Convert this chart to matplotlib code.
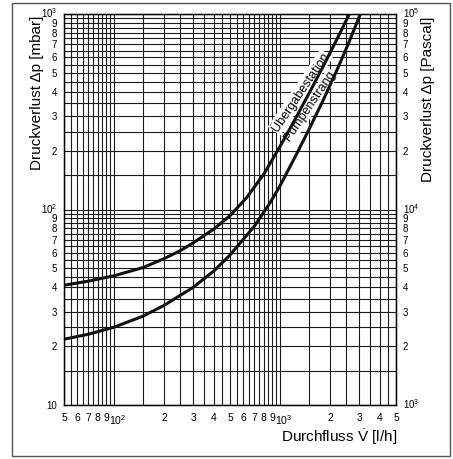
import numpy as np
import matplotlib
matplotlib.use("Agg")
import matplotlib.pyplot as plt
from matplotlib.patches import Rectangle
from matplotlib.transforms import ScaledTranslation
from matplotlib.ticker import FixedLocator, FixedFormatter, NullFormatter

plt.rcParams['font.family'] = ['Liberation Sans', 'DejaVu Sans']
plt.rcParams['mathtext.fontset'] = 'custom'
plt.rcParams['mathtext.rm'] = 'Liberation Sans'
plt.rcParams['mathtext.it'] = 'Liberation Sans:italic'
plt.rcParams['mathtext.default'] = 'regular'

# curve data: flow [l/h] -> pressure loss [mbar]
q_uebergabe = [50, 70, 100, 150, 200, 250, 300, 400, 500, 630, 800, 1000,
               1200, 1500, 1800, 2200, 2620]
dp_uebergabe = [41, 43, 45.8, 50.5, 56, 61.5, 67.5, 79.5, 93, 115, 152, 210,
                277, 394, 530, 741, 1000]

q_pumpe = [50, 70, 100, 150, 200, 300, 400, 500, 700, 870, 1000, 1250,
           1500, 1800, 2200, 2600, 3050]
dp_pumpe = [21.7, 23.0, 25.0, 28.5, 32.3, 40.0, 48.5, 58.5, 82, 108, 132, 190,
            258, 355, 515, 715, 1000]

# tick labels
x_ticks = [50, 60, 70, 80, 90, 100, 200, 300, 400, 500, 600, 700, 800, 900,
           1000, 2000, 3000, 4000, 5000]
x_labels = ['5', '6', '7', '8', '9', '$10^2$', '2', '3', '4', '5', '6', '7',
            '8', '9', '$10^3$', '2', '3', '4', '5']
y_ticks = [10, 20, 30, 40, 50, 60, 70, 80, 90, 100, 200, 300, 400, 500, 600,
           700, 800, 900, 1000]
y_labels = ['10', '2', '3', '4', '5', '6', '7', '8', '9', '$10^2$', '2', '3',
            '4', '5', '6', '7', '8', '9', '$10^3$']
y2_ticks = [1000, 2000, 3000, 4000, 5000, 6000, 7000, 8000, 9000, 10000,
            20000, 30000, 40000, 50000, 60000, 70000, 80000, 90000, 100000]
y2_labels = ['$10^3$', '2', '3', '4', '5', '6', '7', '8', '9', '$10^4$', '2',
             '3', '4', '5', '6', '7', '8', '9', '$10^5$']

fig = plt.figure(figsize=(4.53, 4.59), dpi=100)
ax = fig.add_axes([64 / 453, 1 - 405 / 459, 332 / 453, 391 / 459])

# grid every half step inside each decade
steps = np.arange(1, 10, 0.5)
grid_x = [s * d for d in (10, 100, 1000) for s in steps]
grid_y = [s * d for d in (10, 100) for s in steps]

ax.set_xscale('log')
ax.set_yscale('log')
ax.set_xlim(50, 5000)
ax.set_ylim(10, 1000)

ax.xaxis.set_major_locator(FixedLocator(x_ticks))
ax.xaxis.set_major_formatter(FixedFormatter(x_labels))
ax.xaxis.set_minor_locator(FixedLocator(grid_x))
ax.xaxis.set_minor_formatter(NullFormatter())
ax.yaxis.set_major_locator(FixedLocator(y_ticks))
ax.yaxis.set_major_formatter(FixedFormatter(y_labels))
ax.yaxis.set_minor_locator(FixedLocator(grid_y))
ax.yaxis.set_minor_formatter(NullFormatter())

ax.grid(True, which='both', color='#1a1a1a', lw=0.8)
ax.tick_params(which='both', length=0)
ax.tick_params(axis='x', pad=6, labelsize=7.5)
ax.tick_params(axis='y', pad=5, labelsize=7)
for sp in ax.spines.values():
    sp.set_linewidth(1.0)

ax2 = ax.twinx()
ax2.set_yscale('log')
ax2.set_ylim(1000, 100000)
ax2.yaxis.set_major_locator(FixedLocator(y2_ticks))
ax2.yaxis.set_major_formatter(FixedFormatter(y2_labels))
ax2.yaxis.set_minor_formatter(NullFormatter())
ax2.tick_params(which='both', length=0, labelsize=7, pad=5)

# decade labels sit a bit off-centre, like in the original
right = ScaledTranslation(2.5 / 72, 0, fig.dpi_scale_trans)
up = ScaledTranslation(0, 1.2 / 72, fig.dpi_scale_trans)
for lbl, txt in zip(ax.get_xticklabels(), x_labels):
    if txt.startswith('$'):
        lbl.set_transform(lbl.get_transform() + right)
for lbl, txt in zip(ax.get_yticklabels(), y_labels):
    if txt.startswith('$'):
        lbl.set_transform(lbl.get_transform() + up)
for lbl, txt in zip(ax2.get_yticklabels(), y2_labels):
    if txt.startswith('$'):
        lbl.set_transform(lbl.get_transform() + up)

ax.plot(q_uebergabe, dp_uebergabe, color='#111111', lw=2.2, zorder=5)
ax.plot(q_pumpe, dp_pumpe, color='#111111', lw=2.2, zorder=5)

bbox = dict(facecolor='white', edgecolor='none', pad=0.5)
ax.text(0.712, 0.80, 'Übergabestation', transform=ax.transAxes, fontsize=9,
        rotation=56, rotation_mode='anchor', ha='center', va='center',
        bbox=bbox, zorder=4)
ax.text(0.742, 0.765, 'Pumpenstrang', transform=ax.transAxes, fontsize=9,
        rotation=56, rotation_mode='anchor', ha='center', va='center',
        bbox=bbox, zorder=4)

fig.text(37 / 453, 1 - 93 / 459, 'Druckverlust Δp [mbar]', rotation=90,
         ha='center', va='center', fontsize=11)
fig.text(428 / 453, 1 - 99 / 459, 'Druckverlust Δp [Pascal]', rotation=90,
         ha='center', va='center', fontsize=11)
fig.text(397 / 453, 1 - 437 / 459, r'Durchfluss $\dot{V}$ [l/h]',
         ha='right', va='center', fontsize=11)

fig.patches.append(Rectangle((12 / 453, 3 / 459), 438 / 453, 453 / 459,
                             transform=fig.transFigure, fill=False,
                             edgecolor='#555555', lw=1.0))

fig.savefig('out.png', dpi=100)
